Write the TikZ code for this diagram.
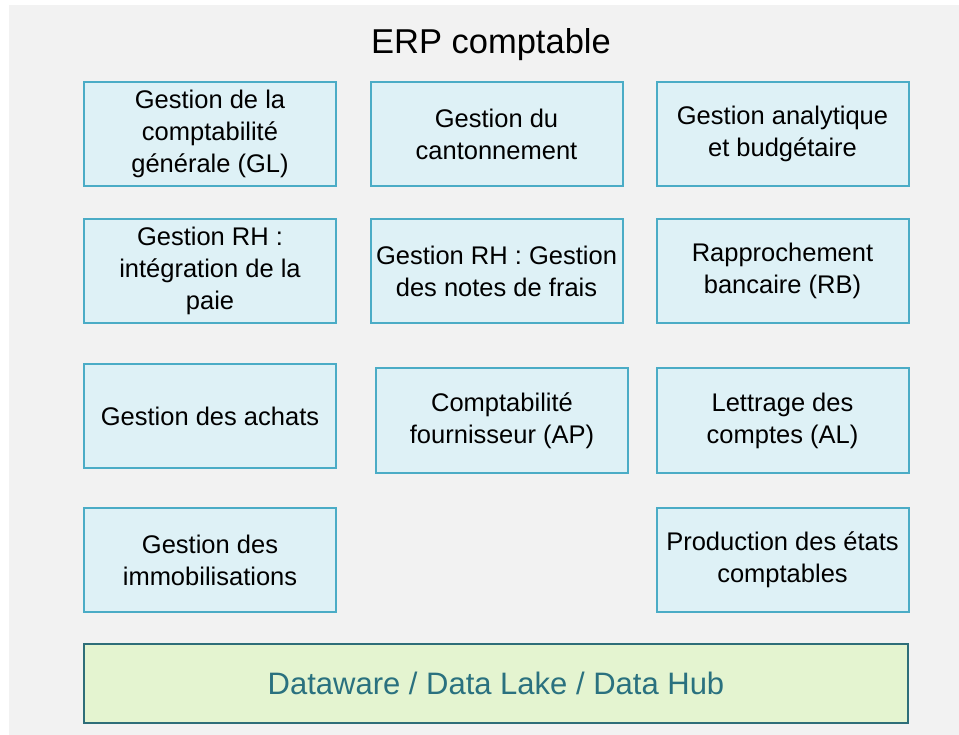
\documentclass[tikz,border=0pt]{standalone}
\usepackage{fontspec}
\setmainfont{Liberation Sans}
\definecolor{bgc}{HTML}{F2F2F2}
\definecolor{boxfill}{HTML}{DEF1F6}
\definecolor{boxline}{HTML}{4BACC6}
\definecolor{datafill}{HTML}{E4F4D0}
\definecolor{dataline}{HTML}{2E6E79}
\definecolor{datatext}{HTML}{2A717F}
\tikzset{
  modbox/.style={draw=boxline, fill=boxfill, line width=2pt, minimum width=252pt, minimum height=104pt, inner sep=0pt, align=center, font=\fontsize{25.5}{32}\selectfont, text=black},
  databox/.style={draw=dataline, fill=datafill, line width=2pt, minimum width=824pt, minimum height=79pt, inner sep=0pt, font=\fontsize{31}{36}\selectfont, text=datatext},
  titletext/.style={font=\fontsize{34.5}{40}\selectfont, text=black}
}
\begin{document}
\begin{tikzpicture}[x=1pt,y=-1pt]
\useasboundingbox (0,0) rectangle (959,735);
\fill[white] (0,0) rectangle (959,735);
\fill[bgc] (9,5) rectangle (959,735);
\node[titletext] (title) at (491,45) {ERP comptable};
% row 1
\node[modbox] (gl) at (210,134) {Gestion de la\\comptabilité\\générale (GL)};
\node[modbox] (cant) at (496.5,134) {Gestion du\\cantonnement};
\node[modbox] (ana) at (782.5,134) {Gestion analytique\\et budgétaire};
% row 2
\node[modbox] (paie) at (210,271) {Gestion RH :\\intégration de la\\paie};
\node[modbox] (ndf) at (496.5,271) {Gestion RH : Gestion\\des notes de frais};
\node[modbox] (rb) at (782.5,271) {Rapprochement\\bancaire (RB)};
% row 3
\node[modbox] (achats) at (210,416) {Gestion des achats};
\node[modbox] (ap) at (502,420.5) {Comptabilité\\fournisseur (AP)};
\node[modbox] (al) at (782.5,420.5) {Lettrage des\\comptes (AL)};
% row 4
\node[modbox] (immo) at (210,560) {Gestion des\\immobilisations};
\node[modbox] (etats) at (782.5,560) {Production des états\\comptables};
% data
\node[databox] (data) at (496,683.5) {Dataware / Data Lake / Data Hub};
\end{tikzpicture}
\end{document}
